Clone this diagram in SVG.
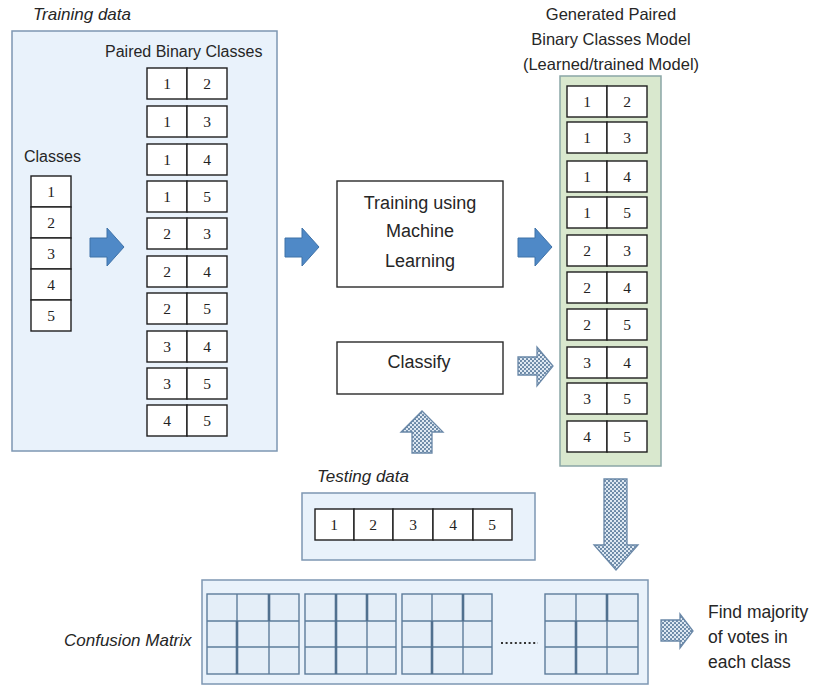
<svg xmlns="http://www.w3.org/2000/svg" width="814" height="685" viewBox="0 0 814 685">
  <style>
    .lbl { font-family: "Liberation Sans", Arial, sans-serif; fill: #262626; }
    .it { font-family: "Liberation Sans", Arial, sans-serif; font-style: italic; fill: #262626; font-size: 17px; }
    .num { font-family: "Liberation Serif", "Times New Roman", serif; font-size: 15.5px; fill: #222; text-anchor: middle; }
    .panel { fill: #e9f2fb; stroke: #7d97b3; stroke-width: 1.5; }
    .model { fill: #d9e8ce; stroke: #8aa6a6; stroke-width: 1.5; }
    .cell { fill: #ffffff; stroke: #1e1e1e; stroke-width: 1.4; }
    .box { fill: #ffffff; stroke: #2a2a2a; stroke-width: 1.4; }
    .solid { fill: #4f89c7; stroke: #3f72a8; stroke-width: 1; }
    .dotted { fill: url(#dots); stroke: #6a88a8; stroke-width: 1.3; }
    .grid { fill: #e4eef8; stroke: #5d7c9b; stroke-width: 1.4; }
    .gl { stroke: #5d7c9b; stroke-width: 1.4; }
    .gt { stroke: #50708f; stroke-width: 2.6; }
  </style>
  <defs>
    <pattern id="dots" width="4" height="4" patternUnits="userSpaceOnUse">
      <rect width="4" height="4" fill="#dfe9f3"/>
      <circle cx="1" cy="1" r="1.05" fill="#5f7f9f"/>
      <circle cx="3" cy="3" r="1.05" fill="#5f7f9f"/>
    </pattern>
    <!-- right-pointing block arrow, 34 x 38 -->
    <path id="rarrow" d="M0,10 H17 V0 L34,19 L17,38 V29 H0 Z"/>
    <!-- one pair cell row: two cells of 40 x 31 -->
    <g id="pair">
      <rect class="cell" x="0" y="0" width="40" height="31"/>
      <rect class="cell" x="40" y="0" width="40" height="31"/>
    </g>
  </defs>

  <!-- Training data panel -->
  <g id="training-data">
    <text class="it" x="33" y="20">Training data</text>
    <rect class="panel" x="12" y="31" width="265" height="420"/>
    <text class="lbl" x="105" y="57" font-size="16">Paired Binary Classes</text>
  </g>

  <g id="classes">
    <text class="lbl" x="24" y="162" font-size="16">Classes</text>
    <rect class="cell" x="31" y="176" width="40" height="31"/>
    <rect class="cell" x="31" y="207" width="40" height="31"/>
    <rect class="cell" x="31" y="238" width="40" height="31"/>
    <rect class="cell" x="31" y="269" width="40" height="31"/>
    <rect class="cell" x="31" y="300" width="40" height="31"/>
    <text class="num" x="51" y="197">1</text>
    <text class="num" x="51" y="228">2</text>
    <text class="num" x="51" y="259">3</text>
    <text class="num" x="51" y="290">4</text>
    <text class="num" x="51" y="321">5</text>
  </g>

  <g id="paired-classes">
    <use href="#pair" x="147" y="68"/><text class="num" x="167" y="89">1</text><text class="num" x="207" y="89">2</text>
    <use href="#pair" x="147" y="106"/><text class="num" x="167" y="127">1</text><text class="num" x="207" y="127">3</text>
    <use href="#pair" x="147" y="144"/><text class="num" x="167" y="165">1</text><text class="num" x="207" y="165">4</text>
    <use href="#pair" x="147" y="181"/><text class="num" x="167" y="202">1</text><text class="num" x="207" y="202">5</text>
    <use href="#pair" x="147" y="218"/><text class="num" x="167" y="239">2</text><text class="num" x="207" y="239">3</text>
    <use href="#pair" x="147" y="256"/><text class="num" x="167" y="277">2</text><text class="num" x="207" y="277">4</text>
    <use href="#pair" x="147" y="293"/><text class="num" x="167" y="314">2</text><text class="num" x="207" y="314">5</text>
    <use href="#pair" x="147" y="331"/><text class="num" x="167" y="352">3</text><text class="num" x="207" y="352">4</text>
    <use href="#pair" x="147" y="368"/><text class="num" x="167" y="389">3</text><text class="num" x="207" y="389">5</text>
    <use href="#pair" x="147" y="405"/><text class="num" x="167" y="426">4</text><text class="num" x="207" y="426">5</text>
  </g>

  <!-- Process boxes -->
  <g id="training-ml">
    <rect class="box" x="337" y="181" width="166" height="106"/>
    <text class="lbl" x="420" y="209" font-size="18" text-anchor="middle">Training using</text>
    <text class="lbl" x="420" y="237" font-size="18" text-anchor="middle">Machine</text>
    <text class="lbl" x="420" y="267" font-size="18" text-anchor="middle">Learning</text>
  </g>

  <g id="classify">
    <rect class="box" x="337" y="342" width="166" height="52"/>
    <text class="lbl" x="419" y="368" font-size="18" text-anchor="middle">Classify</text>
  </g>

  <!-- Generated model -->
  <g id="model">
    <text class="lbl" x="611" y="20" font-size="16.5" text-anchor="middle">Generated Paired</text>
    <text class="lbl" x="611" y="45" font-size="16.5" text-anchor="middle">Binary Classes Model</text>
    <text class="lbl" x="611" y="70" font-size="16.5" text-anchor="middle">(Learned/trained Model)</text>
    <rect class="model" x="560" y="76" width="101" height="390"/>
    <use href="#pair" x="567" y="86"/><text class="num" x="587" y="107">1</text><text class="num" x="627" y="107">2</text>
    <use href="#pair" x="567" y="122"/><text class="num" x="587" y="143">1</text><text class="num" x="627" y="143">3</text>
    <use href="#pair" x="567" y="161"/><text class="num" x="587" y="182">1</text><text class="num" x="627" y="182">4</text>
    <use href="#pair" x="567" y="197"/><text class="num" x="587" y="218">1</text><text class="num" x="627" y="218">5</text>
    <use href="#pair" x="567" y="235"/><text class="num" x="587" y="256">2</text><text class="num" x="627" y="256">3</text>
    <use href="#pair" x="567" y="272"/><text class="num" x="587" y="293">2</text><text class="num" x="627" y="293">4</text>
    <use href="#pair" x="567" y="309"/><text class="num" x="587" y="330">2</text><text class="num" x="627" y="330">5</text>
    <use href="#pair" x="567" y="347"/><text class="num" x="587" y="368">3</text><text class="num" x="627" y="368">4</text>
    <use href="#pair" x="567" y="383"/><text class="num" x="587" y="404">3</text><text class="num" x="627" y="404">5</text>
    <use href="#pair" x="567" y="421"/><text class="num" x="587" y="442">4</text><text class="num" x="627" y="442">5</text>
  </g>

  <!-- Testing data -->
  <g id="testing-data">
    <text class="it" x="317" y="482">Testing data</text>
    <rect class="panel" x="302" y="493" width="233" height="67"/>
    <rect class="cell" x="315" y="509" width="39" height="31"/>
    <rect class="cell" x="354" y="509" width="39" height="31"/>
    <rect class="cell" x="393" y="509" width="40" height="31"/>
    <rect class="cell" x="433" y="509" width="40" height="31"/>
    <rect class="cell" x="473" y="509" width="39" height="31"/>
    <text class="num" x="334" y="530">1</text>
    <text class="num" x="373" y="530">2</text>
    <text class="num" x="413" y="530">3</text>
    <text class="num" x="453" y="530">4</text>
    <text class="num" x="492" y="530">5</text>
  </g>

  <!-- Confusion matrices -->
  <g id="confusion-matrix">
    <text class="it" x="64" y="646">Confusion Matrix</text>
    <rect class="panel" x="202" y="580" width="446" height="104"/>
    <!-- matrix 1 -->
    <rect class="grid" x="207" y="594" width="92" height="80"/>
    <line class="gl" x1="207" y1="621" x2="299" y2="621"/><line class="gl" x1="207" y1="647" x2="299" y2="647"/>
    <line class="gl" x1="237" y1="594" x2="237" y2="674"/><line class="gl" x1="269" y1="594" x2="269" y2="674"/>
    <line class="gt" x1="269" y1="594" x2="269" y2="621"/><line class="gt" x1="237" y1="621" x2="237" y2="674"/>
    <!-- matrix 2 -->
    <rect class="grid" x="305" y="594" width="91" height="80"/>
    <line class="gl" x1="305" y1="621" x2="396" y2="621"/><line class="gl" x1="305" y1="647" x2="396" y2="647"/>
    <line class="gl" x1="336" y1="594" x2="336" y2="674"/><line class="gl" x1="367" y1="594" x2="367" y2="674"/>
    <line class="gt" x1="336" y1="594" x2="336" y2="674"/><line class="gt" x1="367" y1="594" x2="367" y2="621"/>
    <!-- matrix 3 -->
    <rect class="grid" x="402" y="594" width="90" height="80"/>
    <line class="gl" x1="402" y1="621" x2="492" y2="621"/><line class="gl" x1="402" y1="647" x2="492" y2="647"/>
    <line class="gl" x1="432" y1="594" x2="432" y2="674"/><line class="gl" x1="463" y1="594" x2="463" y2="674"/>
    <line class="gt" x1="463" y1="594" x2="463" y2="621"/><line class="gt" x1="432" y1="621" x2="432" y2="674"/>
    <!-- ellipsis -->
    <line x1="501" y1="643" x2="538" y2="643" stroke="#333" stroke-width="2" stroke-dasharray="2,2.6"/>
    <!-- matrix 4 -->
    <rect class="grid" x="545" y="594" width="93" height="80"/>
    <line class="gl" x1="545" y1="621" x2="638" y2="621"/><line class="gl" x1="545" y1="647" x2="638" y2="647"/>
    <line class="gl" x1="576" y1="594" x2="576" y2="674"/><line class="gl" x1="607" y1="594" x2="607" y2="674"/>
    <line class="gt" x1="607" y1="594" x2="607" y2="621"/><line class="gt" x1="576" y1="621" x2="576" y2="674"/>
  </g>

  <g id="majority-vote">
    <text class="lbl" x="708" y="618" font-size="17.5">Find majority</text>
    <text class="lbl" x="708" y="643" font-size="17.5">of votes in</text>
    <text class="lbl" x="708" y="668" font-size="17.5">each class</text>
  </g>

  <!-- Connectors (block arrows) -->
  <g id="connectors">
    <use href="#rarrow" class="solid" x="90" y="228"/>
    <use href="#rarrow" class="solid" x="285" y="228"/>
    <use href="#rarrow" class="solid" x="518" y="228"/>
    <path class="dotted" d="M518,357 H537 V347 L553,366 L537,386 V375 H518 Z"/>
    <path class="dotted" d="M412,453 V432 H401 L422,411 L443,432 H432 V453 Z"/>
    <path class="dotted" d="M604,479 H627 V545 H638 L616,570 L594,545 H604 Z"/>
    <path class="dotted" d="M661,620 H680 V614 L693,631 L680,648 V641 H661 Z"/>
  </g>
</svg>
